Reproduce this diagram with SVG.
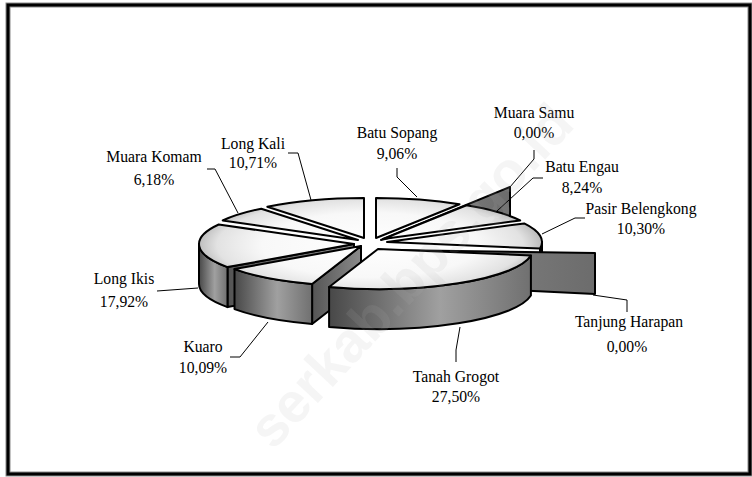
<svg xmlns="http://www.w3.org/2000/svg" width="752" height="477" viewBox="0 0 752 477">
<defs>
<radialGradient id="gTop" gradientUnits="userSpaceOnUse" cx="370" cy="245" r="180" gradientTransform="matrix(1 0 0 0.3 0 171.5)">
<stop offset="0" stop-color="#ffffff"/>
<stop offset="0.6" stop-color="#f8f8f8"/>
<stop offset="0.85" stop-color="#e2e2e2"/>
<stop offset="1" stop-color="#acacac"/>
</radialGradient>
<linearGradient id="gSide" x1="0" y1="0" x2="1" y2="0">
<stop offset="0" stop-color="#484848"/>
<stop offset="0.55" stop-color="#a0a0a0"/>
<stop offset="1" stop-color="#707070"/>
</linearGradient>
<linearGradient id="gFace" x1="0" y1="0" x2="1" y2="0">
<stop offset="0" stop-color="#555555"/>
<stop offset="1" stop-color="#8a8a8a"/>
</linearGradient>
<linearGradient id="gZero" x1="0" y1="0" x2="1" y2="0">
<stop offset="0" stop-color="#8c8c8c"/>
<stop offset="1" stop-color="#6c6c6c"/>
</linearGradient>
<style>
.top{fill:url(#gTop);stroke:#000;stroke-width:2;stroke-linejoin:round}
.side{fill:url(#gSide);stroke:#000;stroke-width:2;stroke-linejoin:round}
.face{fill:url(#gFace);stroke:#000;stroke-width:2;stroke-linejoin:round}
.zero{fill:url(#gZero);stroke:#000;stroke-width:2;stroke-linejoin:round}
.lead{fill:none;stroke:#000;stroke-width:1}
.lbl{font-size:15.7px;fill:#000;text-anchor:middle}
</style>
</defs>
<rect x="0" y="0" width="752" height="477" fill="#ffffff"/>
<rect x="8" y="5" width="742" height="469" fill="#ffffff" stroke="#8a8a8a" stroke-width="5"/>
<rect x="8" y="5" width="742" height="469" fill="none" stroke="#000" stroke-width="3"/>

<g id="slice-long-kali">
<path class="top" d="M364,238 L267.3,206.7 A155,40 0 0,1 364,198 Z"/>
</g>
<g id="slice-batu-sopang">
<path class="top" d="M376,238 L376,198 A155,40 0 0,1 459.5,204.3 Z"/>
</g>
<g id="slice-muara-komam">
<path class="top" d="M358,240 L222.7,220.5 A155,40 0 0,1 261.3,208.7 Z"/>
</g>
<g id="slice-muara-samu">
<path class="zero" d="M381,240 L510,187 L510,216 L400,235 Z"/>
</g>
<g id="slice-batu-engau">
<path class="top" d="M383,239 L466.5,205.3 A155,40 0 0,1 520.2,220.4 Z"/>
</g>
<g id="slice-long-ikis">
<path class="face" d="M354,244 L227.5,267.1 L227.5,307.1 L354,284 Z"/>
<path class="side" d="M227.5,267.1 A155,40 0 0,1 199,244 L199,284 A155,40 0 0,0 227.5,307.1 Z"/>
<path class="top" d="M354,244 L227.5,267.1 A155,40 0 0,1 218.7,224.5 Z"/>
</g>
<g id="slice-pasir-belengkong">
<path class="side" d="M542,242 L542,282 A155,40 0 0,1 540,288.5 L540,248.5 A155,40 0 0,0 542,242 Z"/>
<path class="top" d="M387,242 L524.2,223.4 A155,40 0 0,1 540,248.5 Z"/>
</g>
<g id="slice-tanjung-harapan">
<path class="zero" d="M386,250 L595,253 L595,294 L386,284 Z"/>
</g>
<g id="slice-kuaro">
<path class="face" d="M361,246 L312.1,284 L312.1,324 L361,286 Z"/>
<path class="side" d="M312.1,284 A155,40 0 0,1 234.5,269.1 L234.5,309.1 A155,40 0 0,0 312.1,324 Z"/>
<path class="top" d="M361,246 L312.1,284 A155,40 0 0,1 234.5,269.1 Z"/>
</g>
<g id="slice-tanah-grogot">
<path class="side" d="M530.9,255.5 A155,40 0 0,1 329.1,287 L329.1,327 A155,40 0 0,0 530.9,295.5 Z"/>
<path class="top" d="M378,249 L530.9,255.5 A155,40 0 0,1 329.1,287 Z"/>
</g>

<g id="connectors">
<polyline class="lead" points="397,168 397,177 417,197"/>
<polyline class="lead" points="534,150 534,159 510,187"/>
<polyline class="lead" points="543,178 533,178 497,211"/>
<polyline class="lead" points="585,218 575,218 542,234"/>
<polyline class="lead" points="593,295 627,300 627,312"/>
<polyline class="lead" points="460,327 456,350 456,362"/>
<polyline class="lead" points="230,357 240,357 268,322"/>
<polyline class="lead" points="157,291 198,288"/>
<polyline class="lead" points="207,169 215,169 238,213"/>
<polyline class="lead" points="288,153 298,153 311,200"/>
</g>

<g id="labels" font-family="'Liberation Serif', 'Times New Roman', serif">
<text class="lbl" x="397" y="138">Batu Sopang</text>
<text class="lbl" x="397" y="159">9,06%</text>
<text class="lbl" x="534" y="118">Muara Samu</text>
<text class="lbl" x="534" y="138">0,00%</text>
<text class="lbl" x="582" y="172">Batu Engau</text>
<text class="lbl" x="582" y="193">8,24%</text>
<text class="lbl" x="641" y="214">Pasir Belengkong</text>
<text class="lbl" x="641" y="234">10,30%</text>
<text class="lbl" x="629" y="327">Tanjung Harapan</text>
<text class="lbl" x="627" y="352">0,00%</text>
<text class="lbl" x="456" y="382">Tanah Grogot</text>
<text class="lbl" x="456" y="402">27,50%</text>
<text class="lbl" x="203" y="352">Kuaro</text>
<text class="lbl" x="203" y="373">10,09%</text>
<text class="lbl" x="124" y="284">Long Ikis</text>
<text class="lbl" x="124" y="307">17,92%</text>
<text class="lbl" x="154" y="162">Muara Komam</text>
<text class="lbl" x="154" y="185">6,18%</text>
<text class="lbl" x="253" y="149">Long Kali</text>
<text class="lbl" x="253" y="168">10,71%</text>
</g>

<g id="watermark" transform="translate(410 275) rotate(-47)">
<text x="0" y="20" font-family="'Liberation Sans', Arial, sans-serif" font-weight="bold" font-size="56" fill="#b0b0b0" fill-opacity="0.13" text-anchor="middle">serkab.bps.go.id</text>
</g>
</svg>
